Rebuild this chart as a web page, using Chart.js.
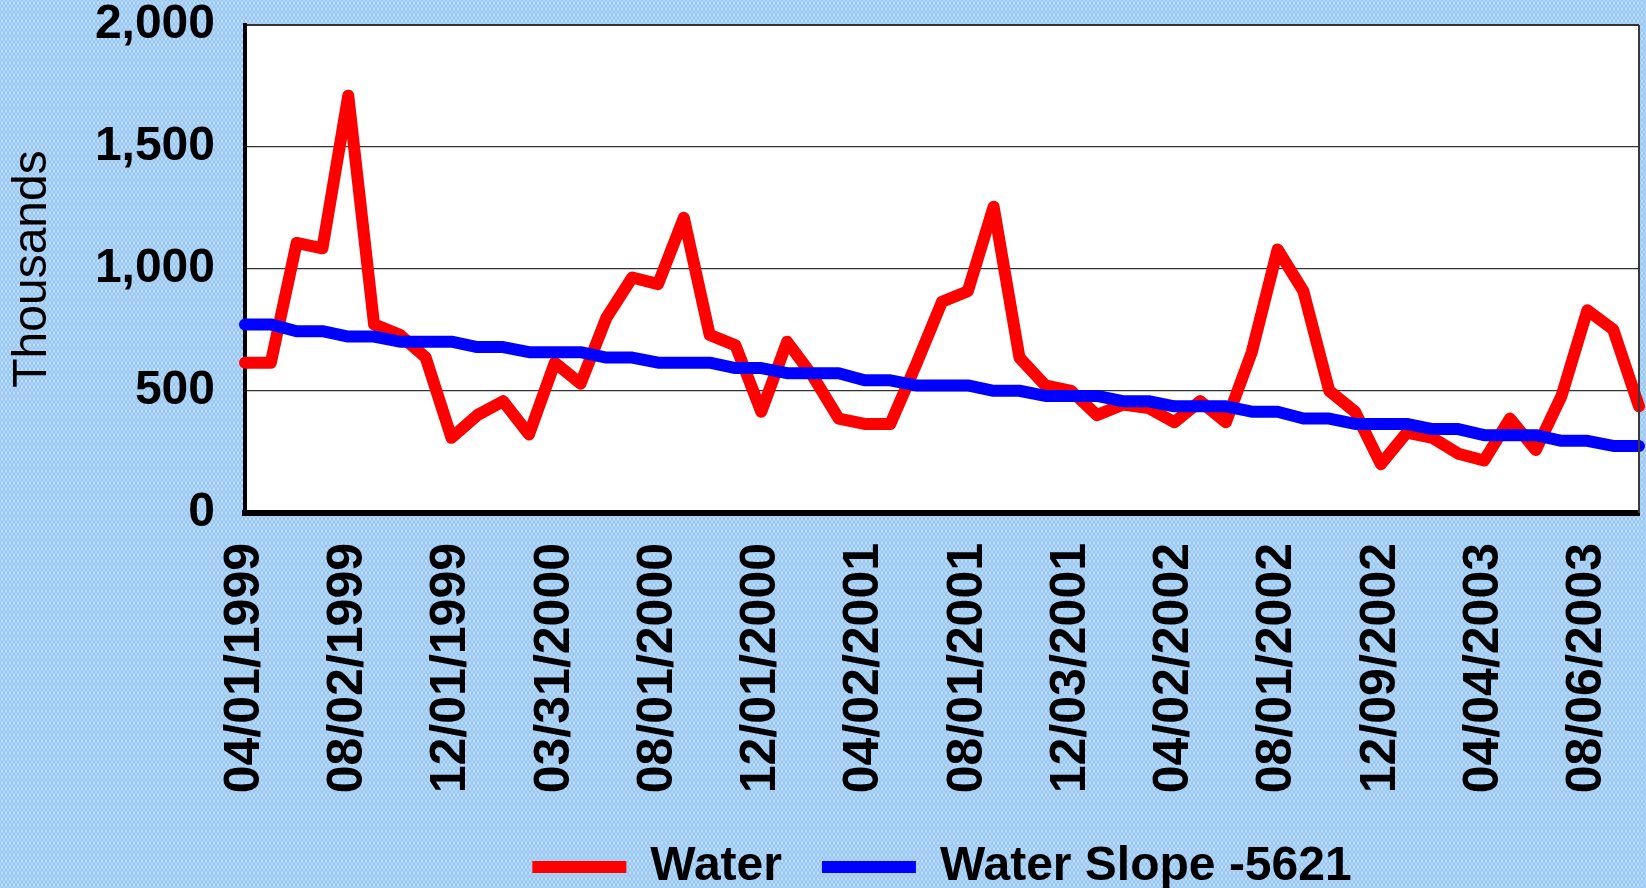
<!DOCTYPE html>
<html lang="en">
<head>
    <meta charset="UTF-8">
    <title>Water</title>
    <script src="https://cdn.jsdelivr.net/npm/chart.js"></script>
    <style>
        html, body {
            margin: 0;
            padding: 0;
        }
        body {
            width: 1646px;
            height: 888px;
            overflow: hidden;
            background-color: #93c5f5;
            background-image:
                radial-gradient(rgba(255, 255, 255, 0.45) 0.9px, transparent 1.3px),
                radial-gradient(rgba(255, 255, 255, 0.3) 0.9px, transparent 1.3px);
            background-size: 4px 6px, 4px 6px;
            background-position: 0 0, 2px 3px;
        }
        canvas {
            display: block;
        }
    </style>
</head>
<body>
    <canvas id="waterChart" width="1646" height="888"></canvas>

    <script>
        // tick labels shown on the x axis, one every 4 months
        const tickLabels = ['04/01/1999', '08/02/1999', '12/01/1999', '03/31/2000', '08/01/2000',
            '12/01/2000', '04/02/2001', '08/01/2001', '12/03/2001', '04/02/2002',
            '08/01/2002', '12/09/2002', '04/04/2003', '08/06/2003'];
        const labelEvery = 4;

        // monthly readings, in thousands
        const water = [616, 616, 1107, 1085, 1710, 773, 730, 637, 308, 401,
            458, 322, 616, 530, 800, 965, 938, 1210, 730, 687,
            415, 702, 560, 387, 365, 365, 609, 866, 909, 1255,
            637, 523, 501, 401, 444, 430, 372, 458, 372, 659,
            1080, 909, 501, 415, 200, 329, 308, 243, 215, 387,
            258, 480, 831, 752, 437];

        const waterSlope = [773, 773, 745, 745, 723, 723, 702, 702, 702, 680,
            680, 659, 659, 659, 637, 637, 616, 616, 616, 594,
            594, 573, 573, 573, 544, 544, 523, 523, 523, 501,
            501, 480, 480, 480, 458, 458, 437, 437, 437, 415,
            415, 387, 387, 365, 365, 365, 344, 344, 319, 319,
            319, 296, 296, 275, 275];

        const yTicks = [0, 500, 1000, 1500, 2000];

        // one category per month, only every 4th one carries a label
        const categories = water.map((v, i) => i % labelEvery === 0 ? (tickLabels[i / labelEvery] || '') : '');

        const font = "'Liberation Sans', Arial, sans-serif";

        // white plot area with a thin frame on the right
        const plotFrame = {
            id: 'plotFrame',
            beforeDraw(chart) {
                const { ctx, chartArea: a } = chart;
                ctx.save();
                ctx.fillStyle = '#ffffff';
                ctx.fillRect(a.left, a.top, a.right - a.left, a.bottom - a.top);
                ctx.restore();
            },
            afterDraw(chart) {
                const { ctx, chartArea: a } = chart;
                ctx.save();
                ctx.strokeStyle = '#3a3a3a';
                ctx.lineWidth = 2;
                ctx.beginPath();
                ctx.moveTo(a.right, a.top);
                ctx.lineTo(a.right, a.bottom);
                ctx.stroke();
                ctx.restore();
            }
        };

        const ctx = document.getElementById('waterChart').getContext('2d');
        const waterChart = new Chart(ctx, {
            type: 'line',
            data: {
                labels: categories,
                datasets: [{
                    label: 'Water',
                    data: water,
                    borderColor: '#ff0000',
                    backgroundColor: '#ff0000',
                    borderWidth: 12,
                    borderCapStyle: 'round',
                    borderJoinStyle: 'round',
                    pointRadius: 0,
                    pointStyle: 'line',
                    tension: 0,
                    order: 1
                }, {
                    label: 'Water Slope -5621',
                    data: waterSlope,
                    borderColor: '#0000ff',
                    backgroundColor: '#0000ff',
                    borderWidth: 12,
                    borderCapStyle: 'round',
                    borderJoinStyle: 'round',
                    pointRadius: 0,
                    pointStyle: 'line',
                    tension: 0,
                    order: 0
                }]
            },
            options: {
                responsive: false,
                animation: false,
                devicePixelRatio: 1,
                layout: {
                    padding: { top: 25, right: 7, bottom: -13, left: 0 }
                },
                plugins: {
                    tooltip: { enabled: false },
                    legend: {
                        position: 'bottom',
                        fullSize: false,
                        labels: {
                            usePointStyle: true,
                            pointStyleWidth: 94,
                            padding: 40,
                            color: '#000000',
                            font: { family: font, size: 48, weight: 'bold' },
                            sort: (a, b) => a.datasetIndex - b.datasetIndex
                        }
                    }
                },
                scales: {
                    x: {
                        type: 'category',
                        offset: false,
                        afterFit(scale) {
                            scale.height = 290;
                            scale.paddingLeft = 0;
                            scale.paddingRight = 0;
                        },
                        grid: { display: false, drawTicks: false },
                        border: { display: true, color: '#000000', width: 6 },
                        ticks: {
                            autoSkip: false,
                            maxRotation: 90,
                            minRotation: 90,
                            padding: 30,
                            color: '#000000',
                            font: { family: font, size: 50, weight: 'bold', lineHeight: 1 }
                        }
                    },
                    y: {
                        min: 0,
                        max: 2000,
                        afterFit(scale) {
                            scale.width = 245;
                            scale.paddingTop = 0;
                            scale.paddingBottom = 0;
                        },
                        afterBuildTicks(scale) {
                            scale.ticks = yTicks.map(v => ({ value: v }));
                        },
                        grid: {
                            drawTicks: false,
                            color: c => c.tick && c.tick.value === 0 ? 'rgba(0,0,0,0)' : '#333333',
                            lineWidth: c => c.tick && c.tick.value === 2000 ? 2 : 1.2
                        },
                        border: { display: true, color: '#000000', width: 4 },
                        ticks: {
                            padding: 30,
                            color: '#000000',
                            font: { family: font, size: 48, weight: 'bold', lineHeight: 1 },
                            callback: v => v.toLocaleString('en-US')
                        },
                        title: {
                            display: true,
                            text: 'Thousands',
                            color: '#000000',
                            padding: { top: 4, bottom: 0 },
                            font: { family: font, size: 48, weight: 'normal' }
                        }
                    }
                }
            },
            plugins: [plotFrame]
        });
    </script>
</body>
</html>
